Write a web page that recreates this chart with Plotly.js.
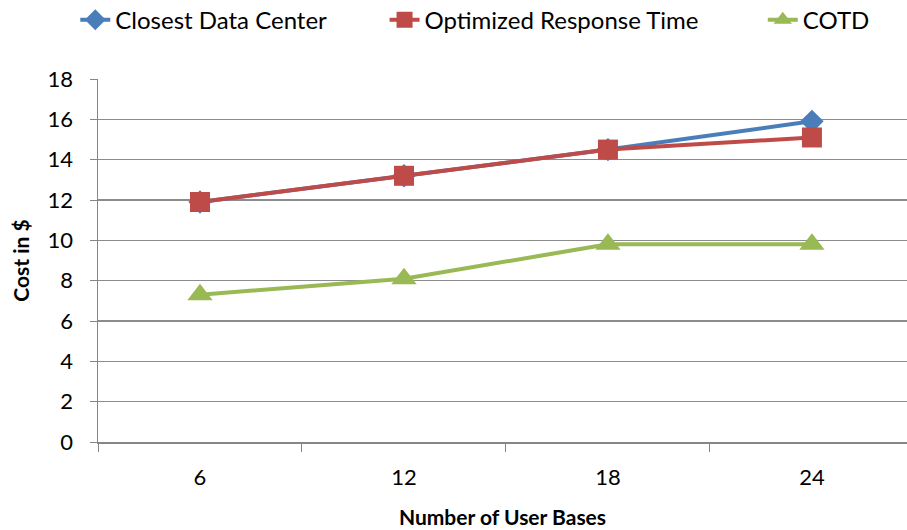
<!DOCTYPE html>
<html>
<head>
<meta charset="utf-8">
<script src="https://cdn.plot.ly/plotly-3.0.1.min.js"></script>
<style>html,body{margin:0;padding:0;background:#fff;}#chart{width:907px;height:530px;}</style>
</head>
<body>
<div id="chart"></div>
<script>
var categories = ['6', '12', '18', '24'];
var closestDataCenter = [11.9, 13.2, 14.5, 15.9];
var optimizedResponseTime = [11.9, 13.2, 14.5, 15.1];
var cotd = [7.3, 8.1, 9.8, 9.8];
var yTicks = [0, 2, 4, 6, 8, 10, 12, 14, 16, 18];

var font = 'Lato, "Open Sans", sans-serif';

var traces = [
  {x: categories, y: closestDataCenter, name: 'Closest Data Center', type: 'scatter', mode: 'lines+markers',
   legend: 'legend',
   line: {color: '#4a7ebb', width: 4}, marker: {symbol: 'diamond', size: 18, color: '#4a7ebb'}},
  {x: categories, y: optimizedResponseTime, name: 'Optimized Response Time', type: 'scatter', mode: 'lines+markers',
   legend: 'legend2',
   line: {color: '#be4b48', width: 4}, marker: {symbol: 'square', size: 20, color: '#be4b48'}},
  {x: categories, y: cotd, name: 'COTD', type: 'scatter', mode: 'lines+markers',
   legend: 'legend3',
   line: {color: '#98b954', width: 4}, marker: {symbol: 'triangle-up', size: 22, color: '#98b954'}}
];

function leg(x) {
  return {orientation: 'h', x: x, xanchor: 'left', xref: 'container', y: 0.962, yanchor: 'middle', yref: 'container',
          font: {family: font, size: 24, color: '#000'}, bgcolor: 'rgba(0,0,0,0)'};
}

var layout = {
  width: 907, height: 530,
  margin: {l: 98, r: 0, t: 79, b: 88},
  paper_bgcolor: '#fff', plot_bgcolor: '#fff',
  font: {family: font, size: 22, color: '#000'},
  showlegend: true,
  legend: leg(0.083),
  legend2: leg(0.424),
  legend3: leg(0.841),
  xaxis: {type: 'category', range: [-0.5, 3.466], tickson: 'boundaries', ticks: 'outside', ticklen: 8,
          tickcolor: '#868686', showline: true, linecolor: '#868686', linewidth: 1.5, showgrid: false,
          zeroline: false, tickfont: {family: font, size: 22}, fixedrange: true, ticklabelstandoff: 15,
          title: {text: '<b>Number of User Bases</b>', font: {family: font, size: 21}, standoff: 21}},
  yaxis: {range: [0, 18], tickmode: 'array', tickvals: yTicks, ticks: 'outside', ticklen: 7,
          tickcolor: '#868686', showline: true, linecolor: '#868686', linewidth: 1.5,
          showgrid: true, gridcolor: '#8c8c8c', gridwidth: 1.5, zeroline: false,
          tickfont: {family: font, size: 22}, fixedrange: true, ticklabelstandoff: 12,
          title: {text: '<b>Cost in $</b>', font: {family: font, size: 21}, standoff: 12}}
};

Plotly.newPlot('chart', traces, layout, {displayModeBar: false, staticPlot: true});
</script>
</body>
</html>
